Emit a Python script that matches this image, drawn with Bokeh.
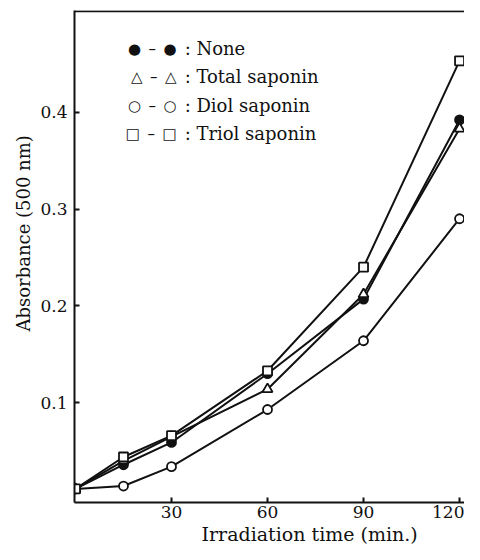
from bokeh.plotting import figure
from bokeh.models import Range1d, FixedTicker, Span, Label, Title
from bokeh.embed import file_html
from bokeh.resources import INLINE

# ---- data ----
time_min = [0, 15, 30, 60, 90, 120]
none_abs = [0.011, 0.036, 0.059, 0.130, 0.207, 0.392]
total_abs = [0.011, 0.040, 0.065, 0.114, 0.212, 0.383]
diol_abs = [0.011, 0.014, 0.034, 0.093, 0.164, 0.290]
triol_abs = [0.011, 0.044, 0.066, 0.133, 0.240, 0.453]

series_names = ["None", "Total saponin", "Diol saponin", "Triol saponin"]
series_symbols = ["\u25cf \u2013 \u25cf", "\u25b3 \u2013 \u25b3", "\u25cb \u2013 \u25cb", "\u25a1 \u2013 \u25a1"]

x_ticks = [30, 60, 90, 120]
y_ticks = [0.1, 0.2, 0.3, 0.4]
y_tick_labels = ["0.1", "0.2", "0.3", "0.4"]

x_title = "Irradiation time (min.)"
y_title = "Absorbance (500 nm)"

SERIF = "DejaVu Serif"
INK = "#111111"

X0, X1 = -0.31, 121.55
Y0, Y1 = -0.003, 0.505

p = figure(width=464, height=544, output_backend="svg", toolbar_location=None,
           x_range=Range1d(X0, X1), y_range=Range1d(Y0, Y1),
           min_border_left=74, min_border_right=0, min_border_top=10, min_border_bottom=42)
p.outline_line_color = None
p.xgrid.grid_line_color = None
p.ygrid.grid_line_color = None
p.background_fill_color = "white"
p.border_fill_color = "white"

for ax in (p.xaxis[0], p.yaxis[0]):
    ax.axis_line_width = 2
    ax.axis_line_color = INK
    ax.major_tick_in = 5
    ax.major_tick_out = 0
    ax.major_tick_line_width = 2
    ax.major_tick_line_color = INK
    ax.minor_tick_line_color = None
    ax.major_label_text_font = SERIF
    ax.major_label_text_font_size = "17px"
    ax.major_label_text_color = INK

p.xaxis.ticker = FixedTicker(ticks=x_ticks)
p.yaxis.ticker = FixedTicker(ticks=y_ticks)
p.yaxis.major_label_overrides = {t: l for t, l in zip(y_ticks, y_tick_labels)}
p.xaxis.major_label_standoff = 3
p.yaxis.major_label_standoff = 7

# axis titles as side titles, shifted like in the (cropped) original
p.add_layout(Title(text=x_title, align="left", offset=127, standoff=0,
                   text_font=SERIF, text_font_size="19px", text_font_style="normal",
                   text_color=INK), "below")
p.add_layout(Title(text=y_title, align="left", offset=171, standoff=7,
                   text_font=SERIF, text_font_size="18px", text_font_style="normal",
                   text_color=INK), "left")

# top edge of the box (the original box shows no right edge)
p.add_layout(Span(location=Y1 - 0.0008, dimension="width", line_color=INK, line_width=2))

series = [
    (none_abs, "circle", INK),
    (total_abs, "triangle", "white"),
    (diol_abs, "circle", "white"),
    (triol_abs, "square", "white"),
]
for ys, marker, fill in series:
    p.line(time_min, ys, line_color=INK, line_width=2)
for ys, marker, fill in series:
    size = 9 if marker != "triangle" else 10
    p.scatter(time_min, ys, marker=marker, size=size, fill_color=fill,
              line_color=INK, line_width=1.8)

# ---- legend drawn as text, like the original ----
legend_y = [0.4657, 0.4367, 0.4068, 0.3779]
for sym, name, ly in zip(series_symbols, series_names, legend_y):
    p.add_layout(Label(x=31.6, y=ly, text=sym.replace(" ", "\u2002"), text_align="right",
                       text_baseline="middle", text_font="DejaVu Sans", text_font_size="15px",
                       text_color=INK))
    p.add_layout(Label(x=34.1, y=ly, text=": " + name, text_align="left", text_baseline="middle",
                       text_font=SERIF, text_font_size="18px", text_color=INK))

open("out.html", "w").write(file_html(p, INLINE))
